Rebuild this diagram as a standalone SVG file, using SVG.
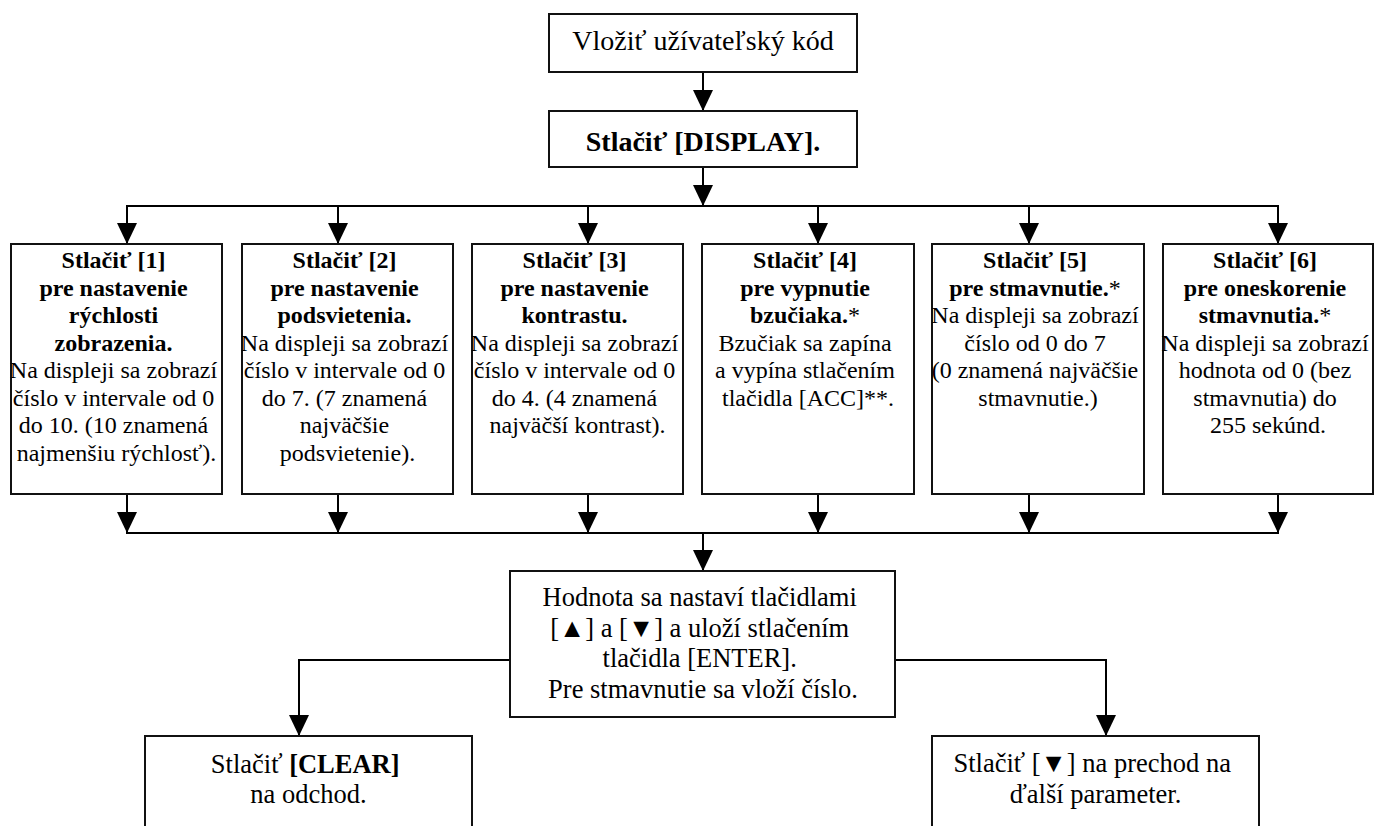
<svg xmlns="http://www.w3.org/2000/svg" width="1375" height="826" viewBox="0 0 1375 826">
<style>
.box{fill:#fff;stroke:#111;stroke-width:2}
.t{font-family:"Liberation Serif","Times New Roman","DejaVu Serif",serif;fill:#000;text-anchor:middle}
.b{font-weight:bold}
.s24{font-size:24px}
.s26{font-size:26.5px}
.s28{font-size:28px}
.ln{fill:none;stroke:#000;stroke-width:2}
</style>
<defs>
<marker id="ah" markerUnits="userSpaceOnUse" markerWidth="21" markerHeight="20" refX="21" refY="10" orient="auto" viewBox="0 0 21 20">
<path d="M0,0 L21,10 L0,20 Z" fill="#000"/>
</marker>
</defs>
<rect width="1375" height="826" fill="#fff"/>

<g id="connectors">
<line class="ln" x1="703" y1="72" x2="703" y2="111" marker-end="url(#ah)"/>
<line class="ln" x1="703" y1="167" x2="703" y2="206" marker-end="url(#ah)"/>
<line class="ln" x1="126" y1="206" x2="1279" y2="206"/>
<line class="ln" x1="127" y1="206" x2="127" y2="244" marker-end="url(#ah)"/>
<line class="ln" x1="338" y1="206" x2="338" y2="244" marker-end="url(#ah)"/>
<line class="ln" x1="588" y1="206" x2="588" y2="244" marker-end="url(#ah)"/>
<line class="ln" x1="818" y1="206" x2="818" y2="244" marker-end="url(#ah)"/>
<line class="ln" x1="1029" y1="206" x2="1029" y2="244" marker-end="url(#ah)"/>
<line class="ln" x1="1278" y1="206" x2="1278" y2="244" marker-end="url(#ah)"/>
<line class="ln" x1="127" y1="494" x2="127" y2="533" marker-end="url(#ah)"/>
<line class="ln" x1="338" y1="494" x2="338" y2="533" marker-end="url(#ah)"/>
<line class="ln" x1="588" y1="494" x2="588" y2="533" marker-end="url(#ah)"/>
<line class="ln" x1="818" y1="494" x2="818" y2="533" marker-end="url(#ah)"/>
<line class="ln" x1="1029" y1="494" x2="1029" y2="533" marker-end="url(#ah)"/>
<line class="ln" x1="1278" y1="494" x2="1278" y2="533" marker-end="url(#ah)"/>
<line class="ln" x1="126" y1="533" x2="1279" y2="533"/>
<line class="ln" x1="703" y1="533" x2="703" y2="571" marker-end="url(#ah)"/>
<polyline class="ln" points="510,660 299,660 299,736" marker-end="url(#ah)"/>
<polyline class="ln" points="895,660 1106,660 1106,736" marker-end="url(#ah)"/>
</g>

<g id="n-kod">
<rect class="box" x="549" y="14" width="308" height="58"/>
<text class="t s28" x="703" y="50">Vložiť užívateľský kód</text>
</g>

<g id="n-display">
<rect class="box" x="549" y="111" width="308" height="56"/>
<text class="t s28 b" x="703" y="151">Stlačiť [DISPLAY].</text>
</g>

<g id="n-1">
<rect class="box" x="11" y="244" width="211" height="250"/>
<text class="t s24" x="116.5">
<tspan class="b" x="116.5" y="268">Stlačiť [1]</tspan>
<tspan class="b" x="116.5" y="295.5">pre nastavenie</tspan>
<tspan class="b" x="116.5" y="323">rýchlosti</tspan>
<tspan class="b" x="116.5" y="350.5">zobrazenia.</tspan>
<tspan x="116.5" y="378">Na displeji sa zobrazí</tspan>
<tspan x="116.5" y="405.5">číslo v intervale od 0</tspan>
<tspan x="116.5" y="433">do 10. (10 znamená</tspan>
<tspan x="116.5" y="460.5">najmenšiu rýchlosť).</tspan>
</text>
</g>

<g id="n-2">
<rect class="box" x="242" y="244" width="211" height="250"/>
<text class="t s24" x="347.5">
<tspan class="b" x="347.5" y="268">Stlačiť [2]</tspan>
<tspan class="b" x="347.5" y="295.5">pre nastavenie</tspan>
<tspan class="b" x="347.5" y="323">podsvietenia.</tspan>
<tspan x="347.5" y="350.5">Na displeji sa zobrazí</tspan>
<tspan x="347.5" y="378">číslo v intervale od 0</tspan>
<tspan x="347.5" y="405.5">do 7. (7 znamená</tspan>
<tspan x="347.5" y="433">najväčšie</tspan>
<tspan x="347.5" y="460.5">podsvietenie).</tspan>
</text>
</g>

<g id="n-3">
<rect class="box" x="472" y="244" width="211" height="250"/>
<text class="t s24" x="577.5">
<tspan class="b" x="577.5" y="268">Stlačiť [3]</tspan>
<tspan class="b" x="577.5" y="295.5">pre nastavenie</tspan>
<tspan class="b" x="577.5" y="323">kontrastu.</tspan>
<tspan x="577.5" y="350.5">Na displeji sa zobrazí</tspan>
<tspan x="577.5" y="378">číslo v intervale od 0</tspan>
<tspan x="577.5" y="405.5">do 4. (4 znamená</tspan>
<tspan x="577.5" y="433">najväčší kontrast).</tspan>
</text>
</g>

<g id="n-4">
<rect class="box" x="702" y="244" width="212" height="250"/>
<text class="t s24" x="808">
<tspan class="b" x="808" y="268">Stlačiť [4]</tspan>
<tspan class="b" x="808" y="295.5">pre vypnutie</tspan>
<tspan x="808" y="323"><tspan class="b">bzučiaka.</tspan>*</tspan>
<tspan x="808" y="350.5">Bzučiak sa zapína</tspan>
<tspan x="808" y="378">a vypína stlačením</tspan>
<tspan x="808" y="405.5">tlačidla [ACC]**.</tspan>
</text>
</g>

<g id="n-5">
<rect class="box" x="932" y="244" width="212" height="250"/>
<text class="t s24" x="1038">
<tspan class="b" x="1038" y="268">Stlačiť [5]</tspan>
<tspan x="1038" y="295.5"><tspan class="b">pre stmavnutie.</tspan>*</tspan>
<tspan x="1038" y="323">Na displeji sa zobrazí</tspan>
<tspan x="1038" y="350.5">číslo od 0 do 7</tspan>
<tspan x="1038" y="378">(0 znamená najväčšie</tspan>
<tspan x="1038" y="405.5">stmavnutie.)</tspan>
</text>
</g>

<g id="n-6">
<rect class="box" x="1163" y="244" width="210" height="250"/>
<text class="t s24" x="1268">
<tspan class="b" x="1268" y="268">Stlačiť [6]</tspan>
<tspan class="b" x="1268" y="295.5">pre oneskorenie</tspan>
<tspan x="1268" y="323"><tspan class="b">stmavnutia.</tspan>*</tspan>
<tspan x="1268" y="350.5">Na displeji sa zobrazí</tspan>
<tspan x="1268" y="378">hodnota od 0 (bez</tspan>
<tspan x="1268" y="405.5">stmavnutia) do</tspan>
<tspan x="1268" y="433">255 sekúnd.</tspan>
</text>
</g>

<g id="n-hodnota">
<rect class="box" x="510" y="571" width="385" height="146"/>
<text class="t s26" x="703">
<tspan x="703" y="606">Hodnota sa nastaví tlačidlami</tspan>
<tspan x="703" y="637">[▲] a [▼] a uloží stlačením</tspan>
<tspan x="703" y="667">tlačidla [ENTER].</tspan>
<tspan x="703" y="698">Pre stmavnutie sa vloží číslo.</tspan>
</text>
</g>

<g id="n-clear">
<rect class="box" x="145" y="736" width="327" height="110"/>
<text class="t s26" x="308.5">
<tspan x="308.5" y="773">Stlačiť <tspan class="b">[CLEAR]</tspan></tspan>
<tspan x="308.5" y="803">na odchod.</tspan>
</text>
</g>

<g id="n-next">
<rect class="box" x="932" y="736" width="327" height="110"/>
<text class="t s26" x="1095.5">
<tspan x="1095.5" y="772">Stlačiť [▼] na prechod na</tspan>
<tspan x="1095.5" y="803">ďalší parameter.</tspan>
</text>
</g>
</svg>
